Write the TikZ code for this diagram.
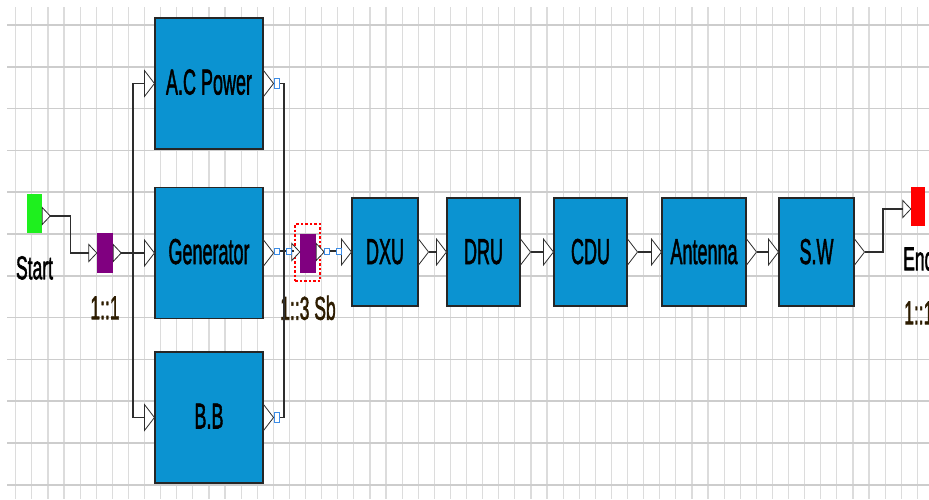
\documentclass[tikz,border=0pt]{standalone}
\usepackage{fontspec}
\setmainfont{Liberation Sans}
\newfontfamily\blkfont[FakeBold=2]{Liberation Sans}
\usetikzlibrary{calc}
\definecolor{boxblue}{RGB}{11,147,209}
\definecolor{gridh}{RGB}{205,205,205}
\definecolor{gridv}{RGB}{220,220,220}
\definecolor{lblbrown}{RGB}{45,28,0}
\definecolor{portblue}{RGB}{60,140,230}
\definecolor{wirecol}{RGB}{45,45,45}
\definecolor{purp}{RGB}{128,0,128}
\definecolor{startgreen}{RGB}{30,240,30}
\definecolor{endred}{RGB}{255,0,0}
\newcommand{\boxtxt}[1]{\scalebox{0.5}[1]{\blkfont\fontsize{36}{40}\selectfont #1}}
\newcommand{\lbltxt}[1]{\scalebox{0.53}[1]{\blkfont\fontsize{33}{36}\selectfont #1}}
\begin{document}
\begin{tikzpicture}[x=1pt,y=-1pt,
  blk/.style={draw=black!85, line width=1.1pt, fill=boxblue, inner sep=0pt},
  comp/.style={draw=none, inner sep=0pt},
  tri/.style={draw=wirecol, fill=white, line width=0.8pt, line join=miter},
  wire/.style={draw=wirecol, line width=1.1pt},
  sqport/.style={draw=portblue, fill=white, line width=0.9pt, inner sep=0pt},
  seldash/.style={draw=red, line width=1.1pt, dash pattern=on 2.5pt off 2pt, inner sep=0pt},
  txt/.style={inner sep=0pt, anchor=base},
  lbl/.style={inner sep=0pt, anchor=base, text=lblbrown},
  pics/bigin/.style={code={\draw[tri] (-10,-13) -- (0,0) -- (-10,13) -- cycle;}},
  pics/bigout/.style={code={\draw[tri] (0,-13) -- (10,0) -- (0,13) -- cycle;}},
  pics/smin/.style={code={\draw[tri] (-8,-8.5) -- (0,0) -- (-8,8.5) -- cycle;}},
  pics/smout/.style={code={\draw[tri] (0,-8.5) -- (8,0) -- (0,8.5) -- cycle;}}
]
\useasboundingbox (0,0) rectangle (929,499);
\fill[white] (0,0) rectangle (929,499);
% grid
\foreach \k in {0,...,57} \draw[gridv, line width=1.2pt] ({15.7+16.1*\k},7) -- ({15.7+16.1*\k},499);
\foreach \k in {0,...,11} \draw[gridh, line width=1.6pt] (7,{25+41.8*\k}) -- (929,{25+41.8*\k});

% bus x positions
\coordinate (bl) at (133,0);
\coordinate (br) at (284,0);
\coordinate (swx) at (883,0);

% components
\node[comp, fill=startgreen, minimum width=15pt, minimum height=39pt] (st) at (34.5,213.5) {};
\node[comp, fill=purp, minimum width=16pt, minimum height=40pt] (p1) at (105,253) {};
\node[comp, fill=purp, minimum width=16pt, minimum height=39pt] (p2) at (308,253) {};
\node[seldash, minimum width=25pt, minimum height=57pt] (p2sel) at (307.5,252.5) {};
\node[comp, fill=endred, minimum width=14pt, minimum height=39pt] (en) at (918,206.5) {};

% blocks
\node[blk, minimum width=108pt, minimum height=131pt] (ac) at (209,83.5) {};
\node[blk, minimum width=108pt, minimum height=131pt] (gen) at (209,253) {};
\node[blk, minimum width=108pt, minimum height=131pt] (bb) at (209,417.5) {};
\node[blk, minimum width=66pt, minimum height=108pt] (dxu) at (385,252) {};
\node[blk, minimum width=73pt, minimum height=108pt] (dru) at (483.5,252) {};
\node[blk, minimum width=73pt, minimum height=108pt] (cdu) at (590.5,252) {};
\node[blk, minimum width=84pt, minimum height=108pt] (ant) at (704,252) {};
\node[blk, minimum width=75pt, minimum height=108pt] (sw) at (816.5,252) {};

% block texts
\node[txt] (actxt) at ($(ac.center)+(0,11)$) {\boxtxt{A.C Power}};
\node[txt] (gentxt) at ($(gen.center)+(0,11)$) {\boxtxt{Generator}};
\node[txt] (bbtxt) at ($(bb.center)+(0,11)$) {\boxtxt{B.B}};
\node[txt] (dxutxt) at ($(dxu.center)+(0,12)$) {\boxtxt{DXU}};
\node[txt] (drutxt) at ($(dru.center)+(0,12)$) {\boxtxt{DRU}};
\node[txt] (cdutxt) at ($(cdu.center)+(0,12)$) {\boxtxt{CDU}};
\node[txt] (anttxt) at ($(ant.center)+(0,12)$) {\boxtxt{Antenna}};
\node[txt] (swtxt) at ($(sw.center)+(0,12)$) {\boxtxt{S.W}};

% labels
\node[txt] (stlbl) at ($(st.south)+(0,46)$) {\lbltxt{Start}};
\node[lbl] (p1lbl) at ($(p1.south)+(0,46)$) {\lbltxt{1::1}};
\node[lbl] (p2lbl) at ($(p2.south)+(0,47)$) {\lbltxt{1::3 Sb}};
\node[txt, anchor=base west] (enlbl) at ($(en.south)+(-15,44)$) {\lbltxt{End}};
\node[lbl, anchor=base west] (enlbl2) at ($(en.south)+(-14,98)$) {\lbltxt{1::1}};

% port coordinates
\coordinate (stport) at ($(st.east)+(0,2.5)$);
\coordinate (sttip) at ($(stport)+(8,0)$);
\coordinate (p1inb) at ($(p1.west)+(-8,0)$);
\coordinate (p1tip) at ($(p1.east)+(8,0)$);
\coordinate (acinb) at ($(ac.west)+(-10,0)$);
\coordinate (geninb) at ($(gen.west)+(-10,0)$);
\coordinate (bbinb) at ($(bb.west)+(-10,0)$);
\coordinate (enport) at ($(en.west)+(0,2.5)$);
\coordinate (eninb) at ($(enport)+(-8,0)$);
\coordinate (swtip) at ($(sw.east)+(10,0)$);

% triangles
\pic at (stport) {smout};
\pic at (p1.west) {smin};
\pic at (p1.east) {smout};
\pic at ($(p2.west)+(0,-1)$) {smin};
\pic at ($(p2.east)+(0,-1)$) {smout};
\pic at (enport) {smin};
\foreach \b in {ac,gen,bb,dxu,dru,cdu,ant,sw} {
  \pic at (\b.west) {bigin};
  \pic at (\b.east) {bigout};
}

% small blue port squares
\node[sqport, minimum width=5pt, minimum height=10pt] (acsq) at ($(ac.east)+(13.5,0)$) {};
\node[sqport, minimum width=5pt, minimum height=10pt] (bbsq) at ($(bb.east)+(13.5,0)$) {};
\node[sqport, minimum width=5pt, minimum height=6pt] (gsq1) at ($(gen.east)+(13.5,-2)$) {};
\node[sqport, minimum width=5pt, minimum height=6pt] (gsq2) at ($(p2.west)+(-10.5,-2)$) {};
\node[sqport, minimum width=5pt, minimum height=6pt] (gsq3) at ($(p2.east)+(10.5,-2)$) {};
\node[sqport, minimum width=5pt, minimum height=6pt] (gsq4) at ($(dxu.west)+(-12.5,-1)$) {};

% wires
\draw[wire] (sttip) -- ++(20,0) |- (p1inb);
\draw[wire] (p1tip) -- (geninb);
\draw[wire] (acinb) -- (acinb -| bl) -- (bbinb -| bl) -- (bbinb);
\draw[wire] (acsq.east) -- (acsq.east -| br) -- (bbsq.east -| br) -- (bbsq.east);
\draw[wire] (gsq1.east) -- (gsq2.west);
\draw[wire] (gsq2.east) -- ++(2,0);
\draw[wire] (gsq3.east) -- (gsq4.west);
\draw[wire] ($(dxu.east)+(10,0)$) -- ($(dru.west)+(-10,0)$);
\draw[wire] ($(dru.east)+(10,0)$) -- ($(cdu.west)+(-10,0)$);
\draw[wire] ($(cdu.east)+(10,0)$) -- ($(ant.west)+(-10,0)$);
\draw[wire] ($(ant.east)+(10,0)$) -- ($(sw.west)+(-10,0)$);
\draw[wire] (swtip) -- (swtip -| swx) |- (eninb);
\end{tikzpicture}
\end{document}
